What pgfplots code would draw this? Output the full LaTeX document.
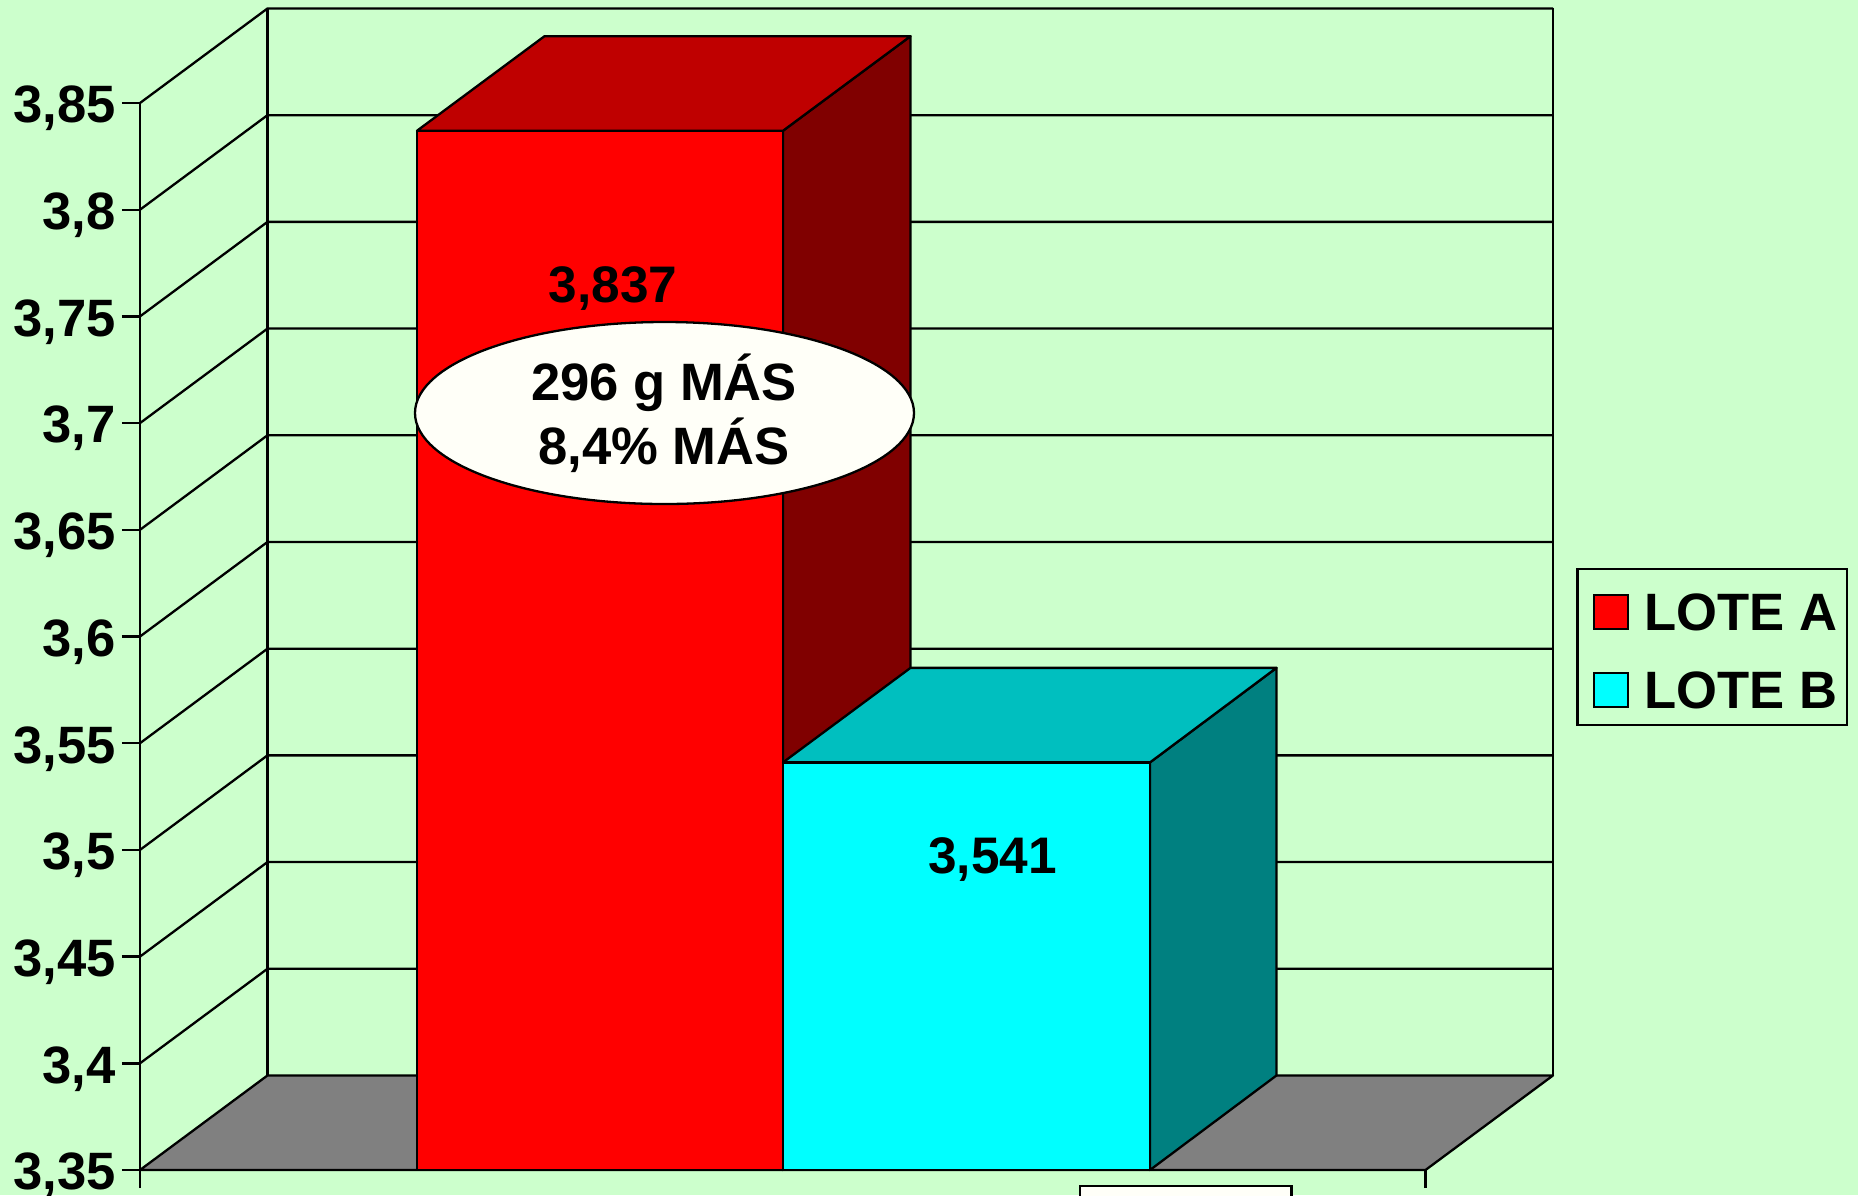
\documentclass[border=0pt]{standalone}
\usepackage{fontspec}
\setmainfont{Liberation Sans}
\usepackage{pgfplots}
\pgfplotsset{compat=1.18}
\definecolor{bgc}{HTML}{CCFFCC}
\definecolor{floorc}{HTML}{808080}
\definecolor{redfront}{HTML}{FF0000}
\definecolor{redtop}{HTML}{BF0000}
\definecolor{redside}{HTML}{800000}
\definecolor{cyanfront}{HTML}{00FFFF}
\definecolor{cyantop}{HTML}{00BFBF}
\definecolor{cyanside}{HTML}{008080}
\definecolor{ell}{HTML}{FFFFF8}
\newcommand{\bigb}{\fontsize{26.3}{30}\selectfont\bfseries}
\newcommand{\datab}{\fontsize{25.7}{30}\selectfont\bfseries}
\pgfplotsset{
  ln/.style={black, line width=1.15pt, line join=round, no markers, forget plot},
  poly/.style={draw=black, line width=1.15pt, line join=round, no markers, forget plot, fill=#1},
}
\begin{document}
\begin{tikzpicture}
\fill[bgc] (-70pt,-12.5pt) rectangle (859pt,585pt);
\clip (-70pt,-12.5pt) rectangle (859pt,585pt);
\begin{axis}[
  scale only axis, width=642.75pt, height=533.5pt,
  xmin=140, xmax=1425.5, ymin=3.35, ymax=3.85,
  clip=false,
  axis lines*=left, axis line style={-, line width=1.4pt, black},
  tick align=outside, major tick length=9pt,
  tick style={black, line width=1.2pt},
  xtick={140,1425.5}, xticklabels={},
  ytick={3.35,3.4,3.45,3.5,3.55,3.6,3.65,3.7,3.75,3.8,3.85},
  yticklabels={{3,35},{3,4},{3,45},{3,5},{3,55},{3,6},{3,65},{3,7},{3,75},{3,8},{3,85}},
  yticklabel style={font=\bigb, inner sep=0pt, text height=18.8pt, text depth=0pt, anchor=east, yshift=-0.5pt},
  yticklabel shift=3pt,
  legend style={at={(axis cs:1848,3.5951)}, anchor=east, draw=black, line width=1.15pt,
    fill=none, font=\bigb, inner xsep=2.7pt, inner ysep=4.75pt, row sep=15pt},
  legend cell align=left,
]
% back wall and left wall
\addplot[ln] coordinates {(140,3.4) (267.5,3.4443) (1553,3.4443)};
\addplot[ln] coordinates {(140,3.45) (267.5,3.4943) (1553,3.4943)};
\addplot[ln] coordinates {(140,3.5) (267.5,3.5443) (1553,3.5443)};
\addplot[ln] coordinates {(140,3.55) (267.5,3.5943) (1553,3.5943)};
\addplot[ln] coordinates {(140,3.6) (267.5,3.6443) (1553,3.6443)};
\addplot[ln] coordinates {(140,3.65) (267.5,3.6943) (1553,3.6943)};
\addplot[ln] coordinates {(140,3.7) (267.5,3.7443) (1553,3.7443)};
\addplot[ln] coordinates {(140,3.75) (267.5,3.7943) (1553,3.7943)};
\addplot[ln] coordinates {(140,3.8) (267.5,3.8443) (1553,3.8443)};
\addplot[ln] coordinates {(140,3.85) (267.5,3.8943) (1553,3.8943)};
\addplot[ln] coordinates {(267.5,3.3943) (267.5,3.8943)};
\addplot[ln] coordinates {(1553,3.3943) (1553,3.8943)};
% floor
\addplot[poly=floorc] coordinates {(140,3.35) (267.5,3.3943) (1553,3.3943) (1425.5,3.35)} -- cycle;
% LOTE A
\addplot[poly=redside] coordinates {(783,3.35) (783,3.837) (910.5,3.8813) (910.5,3.3943)} -- cycle;
\addplot[poly=redtop] coordinates {(417,3.837) (544.5,3.8813) (910.5,3.8813) (783,3.837)} -- cycle;
\addplot[poly=redfront] coordinates {(417,3.35) (417,3.837) (783,3.837) (783,3.35)} -- cycle;
% LOTE B
\addplot[poly=cyanside] coordinates {(1150,3.35) (1150,3.541) (1276.5,3.5853) (1276.5,3.3943)} -- cycle;
\addplot[poly=cyantop] coordinates {(783,3.541) (910.5,3.5853) (1276.5,3.5853) (1150,3.541)} -- cycle;
\addplot[poly=cyanfront] coordinates {(783,3.35) (783,3.541) (1150,3.541) (1150,3.35)} -- cycle;
% bottom box, cut by the page edge
\draw[black, line width=1.15pt, fill=ell] (axis cs:1080,3.33) -- (axis cs:1080,3.3425) -- (axis cs:1291.6,3.3425) -- (axis cs:1291.6,3.33);
% labels
\node[font=\datab, anchor=base, inner sep=0pt] at (axis cs:613,3.7567) {3,837};
\node[font=\datab, anchor=base, inner sep=0pt] at (axis cs:992.5,3.48871) {3,541};
\draw[black, line width=1.15pt, fill=ell] (axis cs:664.5,3.70473) ellipse [x radius=124.75pt, y radius=45.5pt];
\node[font=\bigb, anchor=base, inner sep=0pt] at (axis cs:664,3.71082) {296 g MÁS};
\node[font=\bigb, anchor=base, inner sep=0pt] at (axis cs:664,3.68037) {8,4\% MÁS};
% legend
\addlegendimage{legend image code/.code={\path[draw=none,fill=none] (0pt,17.8pt) -- (28.9pt,0pt);\draw[fill=redfront, draw=black, line width=1.15pt] (5.6pt,-7.5pt) rectangle (22.6pt,9.5pt);}}
\addlegendentry{LOTE A}
\addlegendimage{legend image code/.code={\path[draw=none,fill=none] (0pt,0pt) -- (28.9pt,0pt);\draw[fill=cyanfront, draw=black, line width=1.15pt] (5.6pt,-7.5pt) rectangle (22.6pt,9.5pt);}}
\addlegendentry{LOTE B}
\end{axis}
\end{tikzpicture}
\end{document}
